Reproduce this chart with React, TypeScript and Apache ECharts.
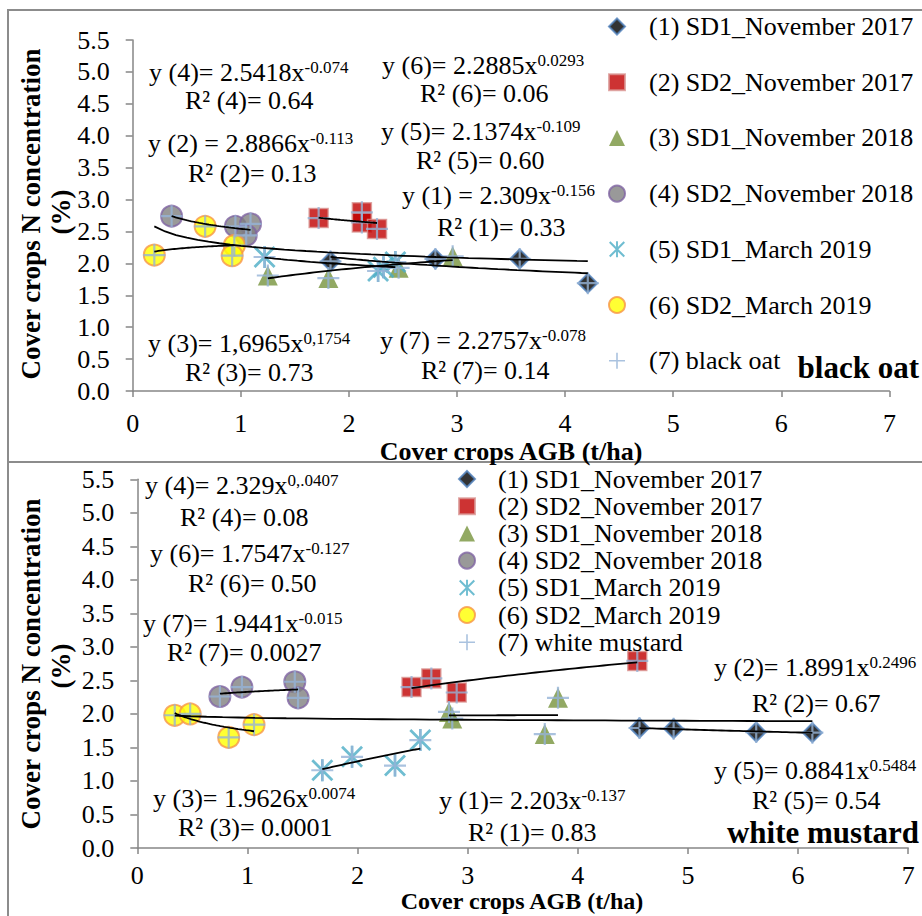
import React, { useEffect, useRef } from "react";
import * as echarts from "echarts";

const SERIF = "'Liberation Serif', 'Times New Roman', serif";

const SERIES_NAMES = [
  "(1) SD1_November 2017",
  "(2) SD2_November 2017",
  "(3) SD1_November 2018",
  "(4) SD2_November 2018",
  "(5) SD1_March 2019",
  "(6) SD2_March 2019",
];
const OAT_NAME = "(7) black oat";
const MUSTARD_NAME = "(7) white mustard";

// black oat panel: [AGB t/ha, N %]
const oat1 = [[1.83, 2.03], [2.8, 2.07], [3.58, 2.07], [4.21, 1.69]];
const oat2 = [[1.72, 2.71], [2.12, 2.8], [2.12, 2.64], [2.26, 2.54]];
const oat3 = [[1.25, 1.81], [1.81, 1.77], [2.46, 1.93], [2.96, 2.11]];
const oat4 = [[0.36, 2.74], [0.95, 2.58], [1.09, 2.62], [1.05, 2.44]];
const oat5 = [[1.22, 2.1], [2.27, 1.88], [2.32, 1.94], [2.43, 2.02]];
const oat6 = [[0.2, 2.13], [0.67, 2.58], [0.94, 2.28], [0.92, 2.12]];

// white mustard panel
const mus1 = [[4.56, 1.79], [4.87, 1.78], [5.62, 1.73], [6.13, 1.72]];
const mus2 = [[2.49, 2.4], [2.67, 2.53], [2.9, 2.32], [4.54, 2.79]];
const mus3 = [[2.83, 2.03], [2.86, 1.93], [3.7, 1.7], [3.82, 2.24]];
const mus4 = [[0.75, 2.26], [0.95, 2.4], [1.43, 2.48], [1.46, 2.24]];
const mus5 = [[1.68, 1.16], [1.95, 1.36], [2.34, 1.23], [2.57, 1.61]];
const mus6 = [[0.34, 1.98], [0.48, 2.0], [0.83, 1.65], [1.06, 1.84]];

// power trend coefficients y = a * x^b, order (1)..(7)
const oatTrendA = [2.309, 2.8866, 1.6965, 2.5418, 2.1374, 2.2885, 2.2757];
const oatTrendB = [-0.156, -0.113, 0.1754, -0.074, -0.109, 0.0293, -0.078];
const musTrendA = [2.203, 1.8991, 1.9626, 2.329, 0.8841, 1.7547, 1.9441];
const musTrendB = [-0.137, 0.2496, 0.0074, 0.0407, 0.5484, -0.127, -0.015];

const yTickLabels = ["0.0", "0.5", "1.0", "1.5", "2.0", "2.5", "3.0", "3.5", "4.0", "4.5", "5.0", "5.5"];

const STAR_PATH =
  "path://M44 0H56V100H44Z M0 9L9 0L100 91L91 100Z M91 0L100 9L9 100L0 91Z";
const PLUS_PATH = "path://M45 0H55V100H45Z M0 45H100V55H0Z";

const STYLES: any[] = [
  { symbol: "diamond", symbolSize: 19, itemStyle: { color: "#000000", borderColor: "#4F81BD", borderWidth: 2 } },
  { symbol: "rect", symbolSize: 19, itemStyle: { color: "#C00000", borderColor: "#D99694", borderWidth: 1.5 } },
  { symbol: "triangle", symbolSize: 20, itemStyle: { color: "#77933C" } },
  { symbol: "circle", symbolSize: 21, itemStyle: { color: "#7F7F7F", borderColor: "#8064A2", borderWidth: 2 } },
  { symbol: STAR_PATH, symbolSize: 22, itemStyle: { color: "#4BACC6" } },
  { symbol: "circle", symbolSize: 21, itemStyle: { color: "#FFFF00", borderColor: "#F79646", borderWidth: 2 } },
];
const PLUS_STYLE = { symbol: PLUS_PATH, symbolSize: 22, itemStyle: { color: "#95B3D7" } };

function trendLine(pts: number[][], a: number, b: number) {
  const xs = pts.map((p) => p[0]);
  const x0 = Math.min(...xs);
  const x1 = Math.max(...xs);
  const n = 40;
  const out: number[][] = [];
  for (let i = 0; i <= n; i++) {
    const x = x0 + ((x1 - x0) * i) / n;
    out.push([x, a * Math.pow(x, b)]);
  }
  return out;
}

function panelSeries(panel: number, groups: number[][][], plusName: string, A: number[], B: number[]) {
  const out: any[] = [];
  groups.forEach((pts, k) => {
    out.push({
      type: "scatter",
      name: SERIES_NAMES[k],
      xAxisIndex: panel,
      yAxisIndex: panel,
      data: pts,
      ...STYLES[k],
      z: 2,
    });
  });
  const all = groups.reduce((acc, g) => acc.concat(g), [] as number[][]);
  out.push({ type: "scatter", name: plusName, xAxisIndex: panel, yAxisIndex: panel, data: all, ...PLUS_STYLE, z: 3 });
  const trendGroups = [...groups, all];
  trendGroups.forEach((pts, k) => {
    out.push({
      type: "line",
      name: `trend_${panel}_${k}`,
      xAxisIndex: panel,
      yAxisIndex: panel,
      data: trendLine(pts, A[k], B[k]),
      symbol: "none",
      showSymbol: false,
      silent: true,
      lineStyle: { color: "#000", width: 1.8 },
      itemStyle: { color: "#000" },
      z: 4,
    });
  });
  return out;
}

const AXIS_COLOR = "#868686";

function xAxisCfg(i: number, margin: number) {
  return {
    gridIndex: i,
    type: "value",
    min: 0,
    max: 7,
    interval: 1,
    axisLine: { show: true, onZero: false, lineStyle: { color: AXIS_COLOR, width: 1.5 } },
    axisTick: { show: true, length: 6, lineStyle: { color: AXIS_COLOR, width: 1.5 } },
    splitLine: { show: false },
    axisLabel: { color: "#000", fontSize: 26, fontFamily: SERIF, margin },
  };
}
function yAxisCfg(i: number) {
  return {
    gridIndex: i,
    type: "value",
    min: 0,
    max: 5.5,
    interval: 0.5,
    axisLine: { show: true, onZero: false, lineStyle: { color: AXIS_COLOR, width: 1.5 } },
    axisTick: { show: true, length: 7, lineStyle: { color: AXIS_COLOR, width: 1.5 } },
    splitLine: { show: false },
    axisLabel: {
      color: "#000",
      fontSize: 26,
      fontFamily: SERIF,
      margin: 23,
      formatter: (v: number) => yTickLabels[Math.round(v * 2)] ?? v.toFixed(1),
    },
  };
}

function eqText(x: number, y: number, base: string, sup?: string) {
  return {
    type: "text",
    x,
    y,
    silent: true,
    z: 10,
    style: {
      text: sup ? `{a|${base}}{s|${sup}}` : `{a|${base}}`,
      rich: {
        a: { fontSize: 26, fontFamily: SERIF, fill: "#000", color: "#000" },
        s: { fontSize: 17, fontFamily: SERIF, fill: "#000", color: "#000", verticalAlign: "top" },
      },
      align: "left",
      verticalAlign: "middle",
      textAlign: "left",
      textVerticalAlign: "middle",
    },
  };
}

function plainText(x: number, y: number, text: string, size: number, bold: boolean, align: string, rotation = 0) {
  return {
    type: "text",
    x,
    y,
    rotation,
    silent: true,
    z: 10,
    style: {
      text,
      fontSize: size,
      fontWeight: bold ? "bold" : "normal",
      fontFamily: SERIF,
      fill: "#000",
      align,
      verticalAlign: "middle",
      textAlign: align,
      textVerticalAlign: "middle",
    },
  };
}

const option: any = {
  animation: false,
  backgroundColor: "#fff",
  textStyle: { fontFamily: SERIF },
  grid: [
    { left: 132.7, top: 40, width: 756.7, height: 351 },
    { left: 137.3, top: 479.3, width: 770.9, height: 368.7 },
  ],
  xAxis: [xAxisCfg(0, 19), xAxisCfg(1, 14)],
  yAxis: [yAxisCfg(0), yAxisCfg(1)],
  legend: [
    {
      orient: "vertical",
      left: 603,
      top: 6.5,
      itemWidth: 16,
      itemHeight: 16,
      itemGap: 25.7,
      textStyle: { fontSize: 26, fontFamily: SERIF, color: "#000", lineHeight: 30, padding: [0, 0, 0, 19] },
      data: [...SERIES_NAMES, OAT_NAME],
      selectedMode: false,
    },
    {
      orient: "vertical",
      left: 453,
      top: 460.5,
      itemWidth: 16,
      itemHeight: 16,
      itemGap: 0.2,
      textStyle: { fontSize: 26, fontFamily: SERIF, color: "#000", lineHeight: 27, padding: [0, 0, 0, 18] },
      data: [...SERIES_NAMES, MUSTARD_NAME],
      selectedMode: false,
    },
  ],
  series: [
    ...panelSeries(0, [oat1, oat2, oat3, oat4, oat5, oat6], OAT_NAME, oatTrendA, oatTrendB),
    ...panelSeries(1, [mus1, mus2, mus3, mus4, mus5, mus6], MUSTARD_NAME, musTrendA, musTrendB),
  ],
  graphic: [
    { type: "rect", silent: true, shape: { x: 8, y: 10, width: 930, height: 452 }, style: { fill: "none", stroke: "#8c8c8c", lineWidth: 2 } },
    { type: "rect", silent: true, shape: { x: 8, y: 462, width: 930, height: 470 }, style: { fill: "none", stroke: "#8c8c8c", lineWidth: 2 } },
    // top panel equations
    eqText(149, 72, "y (4)= 2.5418x", "-0.074"),
    eqText(185, 100, "R² (4)= 0.64"),
    eqText(148, 143, "y (2) = 2.8866x", "-0.113"),
    eqText(188, 173, "R² (2)= 0.13"),
    eqText(382, 65, "y (6)= 2.2885x", "0.0293"),
    eqText(420, 93, "R² (6)= 0.06"),
    eqText(381, 131, "y (5)= 2.1374x", "-0.109"),
    eqText(416, 160, "R² (5)= 0.60"),
    eqText(402, 195, "y (1) = 2.309x", "-0.156"),
    eqText(437, 227, "R² (1)= 0.33"),
    eqText(148, 343, "y (3)= 1,6965x", "0,1754"),
    eqText(185, 372, "R² (3)= 0.73"),
    eqText(380, 340, "y (7) = 2.2757x", "-0.078"),
    eqText(421, 370, "R² (7)= 0.14"),
    plainText(919, 367, "black oat", 31, true, "right"),
    plainText(511, 451, "Cover crops AGB (t/ha)", 26, true, "center"),
    plainText(31, 214, "Cover crops N concentration", 27, true, "center", Math.PI / 2),
    plainText(61, 212, "(%)", 27, true, "center", Math.PI / 2),
    // bottom panel equations
    eqText(145, 485, "y (4)= 2.329x", "0,.0407"),
    eqText(180, 517, "R² (4)= 0.08"),
    eqText(150, 553, "y (6)= 1.7547x", "-0.127"),
    eqText(188, 583, "R² (6)= 0.50"),
    eqText(143, 623, "y (7)= 1.9441x", "-0.015"),
    eqText(167, 652, "R² (7)= 0.0027"),
    eqText(153, 798, "y (3)= 1.9626x", "0.0074"),
    eqText(178, 827, "R² (3)= 0.0001"),
    eqText(439, 800, "y (1)= 2.203x", "-0.137"),
    eqText(468, 832, "R² (1)= 0.83"),
    eqText(714, 667, "y (2)= 1.8991x", "0.2496"),
    eqText(752, 703, "R² (2)= 0.67"),
    eqText(714, 770, "y (5)= 0.8841x", "0.5484"),
    eqText(752, 800, "R² (5)= 0.54"),
    plainText(919, 832, "white mustard", 31, true, "right"),
    plainText(522, 901, "Cover crops AGB (t/ha)", 24, true, "center"),
    plainText(31, 664, "Cover crops N concentration", 27, true, "center", Math.PI / 2),
    plainText(61, 666, "(%)", 27, true, "center", Math.PI / 2),
  ],
};

export default function App() {
  const ref = useRef<HTMLDivElement>(null);
  useEffect(() => {
    if (!ref.current) return;
    const chart = echarts.init(ref.current, null, { renderer: "svg" });
    chart.setOption(option);
    return () => chart.dispose();
  }, []);
  return (
    <div
      ref={ref}
      style={{ position: "absolute", left: 0, top: 0, width: 922, height: 916, background: "#fff" }}
    />
  );
}
